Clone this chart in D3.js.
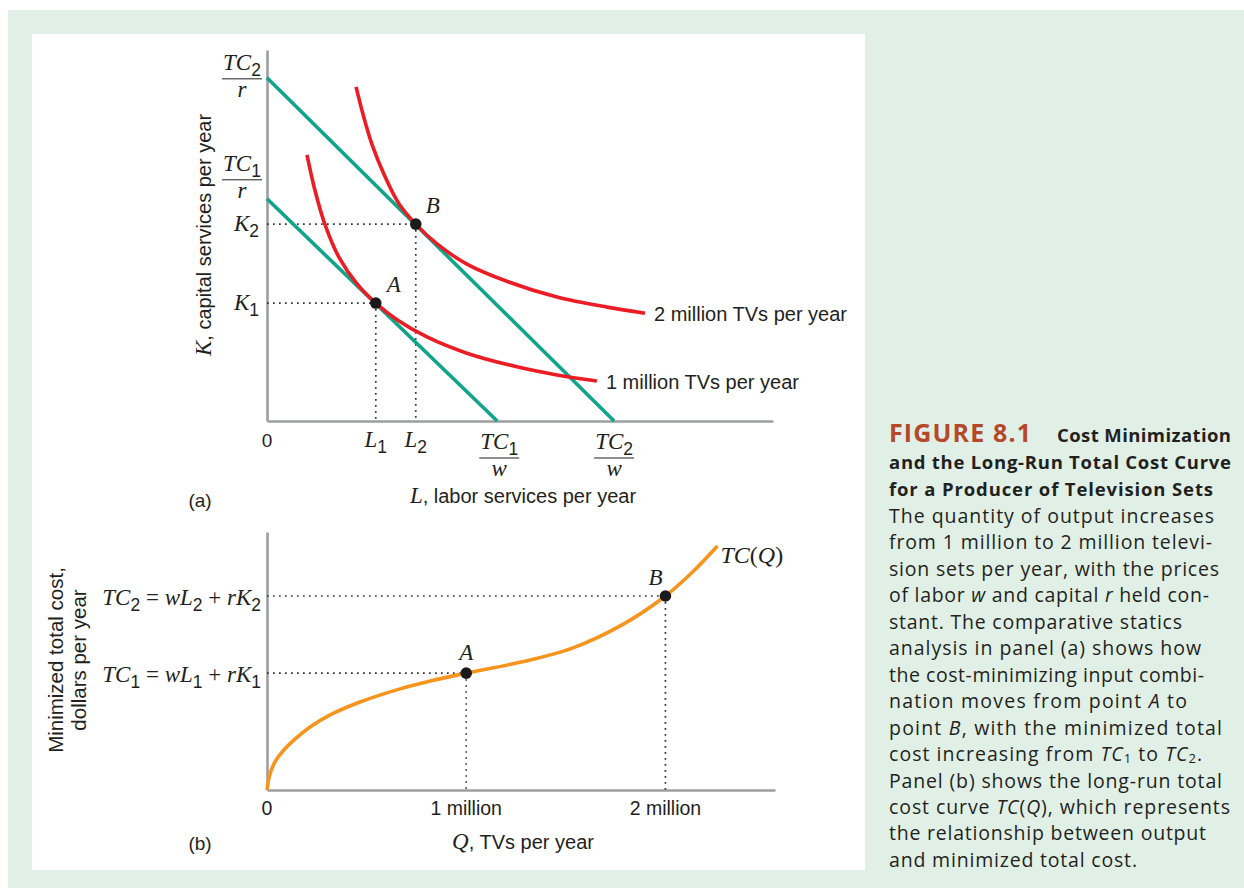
<!DOCTYPE html>
<html>
<head>
<meta charset="utf-8">
<script src="https://cdn.jsdelivr.net/npm/d3@7"></script>
<style>
  html, body { margin: 0; padding: 0; background: #ffffff; }
  svg { display: block; }
</style>
</head>
<body>
<div id="chart"></div>
<script>
// ---------------- DATA ----------------
// Panel (a): labour L (x) and capital K (y), arbitrary units
const isocost1 = [[0, 4.39], [4.55, 0]];          // TC1/r , TC1/w
const isocost2 = [[0, 6.78], [6.86, 0]];          // TC2/r , TC2/w
const isoquant1 = [ // 1 million TVs per year
  [0.79, 5.26], [0.95, 4.55], [1.15, 3.87], [1.42, 3.24], [1.78, 2.71],
  [2.15, 2.33], [2.57, 2.00], [3.16, 1.66], [3.95, 1.34], [4.94, 1.07],
  [5.73, 0.91], [6.52, 0.79]
];
const isoquant2 = [ // 2 million TVs per year
  [1.76, 6.60], [1.90, 6.05], [2.08, 5.45], [2.31, 4.88], [2.61, 4.29],
  [2.94, 3.89], [3.36, 3.50], [3.95, 3.10], [4.74, 2.76], [5.73, 2.45],
  [6.72, 2.25], [7.47, 2.13]
];
const optima = [ {name: "A", L: 2.15, K: 2.33}, {name: "B", L: 2.94, K: 3.89} ];
const isoquantLabels = ["1 million TVs per year", "2 million TVs per year"];

// Panel (b): output Q (millions of TVs) and minimized total cost
const tcCurve = [
  [0, 0], [0.015, 0.62], [0.04, 1.09], [0.08, 1.51], [0.136, 1.94],
  [0.216, 2.44], [0.317, 2.91], [0.467, 3.41], [0.668, 3.92], [0.819, 4.22],
  [1.0, 4.53], [1.276, 4.96], [1.533, 5.50], [1.789, 6.43], [2.0, 7.52],
  [2.136, 8.45], [2.261, 9.46]
];
const tcPoints = [ {name: "A", Q: 1, TC: 4.53}, {name: "B", Q: 2, TC: 7.52} ];
const qTicks = [0, 1, 2];
const qTickLabels = ["0", "1 million", "2 million"];

const captionLines = [
  "The quantity of output increases",
  "from 1 million to 2 million televi-",
  "sion sets per year, with the prices",
  "of labor |w| and capital |r| held con-",
  "stant. The comparative statics",
  "analysis in panel (a) shows how",
  "the cost-minimizing input combi-",
  "nation moves from point |A| to",
  "point |B|, with the minimized total",
  "cost increasing from |TC|_1 to |TC|_2.",
  "Panel (b) shows the long-run total",
  "cost curve |TC|(|Q|), which represents",
  "the relationship between output",
  "and minimized total cost."
];
const captionWidths = [325, 323, 330, 320, 293, 312, 315, 298, 333, 313, 333, 341, 317, 248];

// ---------------- DRAWING ----------------
const SANS = "'Liberation Sans', Arial, Helvetica, sans-serif";
const SERIF = "'Liberation Serif', 'Times New Roman', serif";
const CAP = "'Open Sans', 'Noto Sans', sans-serif";
const GREEN = "#10a48a", RED = "#ec1c24", ORANGE = "#f7941d", AXIS = "#9c9ea1", INK = "#231f20";

const W = 1244, H = 888;
const svg = d3.select("#chart").append("svg").attr("width", W).attr("height", H);

svg.append("rect").attr("x", 0).attr("y", 0).attr("width", W).attr("height", H).attr("fill", "#ffffff");
svg.append("rect").attr("x", 8).attr("y", 10).attr("width", W - 8).attr("height", H - 10).attr("fill", "#e1f0e6");
svg.append("rect").attr("x", 32).attr("y", 34).attr("width", 833).attr("height", 836).attr("fill", "#ffffff");

// rich text helper: segs = [[text, kind]], kind: i (serif italic), r (serif), s (sans), sub (sans subscript)
function rich(textSel, segs, base) {
  let shift = 0;
  segs.forEach(([str, kind]) => {
    const ts = textSel.append("tspan").text(str);
    let target = 0;
    if (kind === "i") ts.attr("font-family", SERIF).attr("font-style", "italic").attr("font-size", base);
    else if (kind === "r") ts.attr("font-family", SERIF).attr("font-size", base);
    else if (kind === "s") ts.attr("font-family", SANS).attr("font-size", 20);
    else if (kind === "sub") { ts.attr("font-family", SANS).attr("font-size", base * 0.76); target = base * 0.27; }
    if (target !== shift) { ts.attr("dy", target - shift); shift = target; }
  });
  return textSel;
}
function fraction(g, cx, lineY, numSegs, den, size) {
  rich(g.append("text").attr("x", cx).attr("y", lineY - 9).attr("text-anchor", "middle").attr("fill", INK), numSegs, size);
  g.append("line").attr("x1", cx - 20).attr("x2", cx + 20).attr("y1", lineY).attr("y2", lineY)
    .attr("stroke", INK).attr("stroke-width", 1);
  rich(g.append("text").attr("x", cx).attr("y", lineY + 18).attr("text-anchor", "middle").attr("fill", INK), [[den, "i"]], size);
}
const dotted = sel => sel.attr("stroke", "#333").attr("stroke-width", 1.7).attr("stroke-dasharray", "1.7,4.3");

// ===== Panel (a) =====
const xA = d3.scaleLinear().domain([0, 10]).range([267, 773]);
const yA = d3.scaleLinear().domain([0, 7.33]).range([421, 50]);
const gA = svg.append("g");

const axA_x = gA.append("g").attr("transform", `translate(0,${yA(0)})`)
  .call(d3.axisBottom(xA).tickValues([]).tickSizeOuter(0));
const axA_y = gA.append("g").attr("transform", `translate(${xA(0)},0)`)
  .call(d3.axisLeft(yA).tickValues([]).tickSizeOuter(0));
[axA_x, axA_y].forEach(a => a.select(".domain").attr("stroke", AXIS).attr("stroke-width", 2.6));

optima.forEach(p => {
  gA.append("line").attr("x1", xA(0)).attr("x2", xA(p.L)).attr("y1", yA(p.K)).attr("y2", yA(p.K)).call(dotted);
  gA.append("line").attr("x1", xA(p.L)).attr("x2", xA(p.L)).attr("y1", yA(p.K)).attr("y2", yA(0)).call(dotted);
});

const lineA = d3.line().x(d => xA(d[0])).y(d => yA(d[1]));
const curveA = d3.line().x(d => xA(d[0])).y(d => yA(d[1])).curve(d3.curveCatmullRom.alpha(0.5));
[isocost1, isocost2].forEach(c => gA.append("path").attr("d", lineA(c)).attr("fill", "none")
  .attr("stroke", GREEN).attr("stroke-width", 3.6));
[isoquant1, isoquant2].forEach(c => gA.append("path").attr("d", curveA(c)).attr("fill", "none")
  .attr("stroke", RED).attr("stroke-width", 3.6));

optima.forEach(p => gA.append("circle").attr("cx", xA(p.L)).attr("cy", yA(p.K)).attr("r", 5.8).attr("fill", "#1a1a1a"));

gA.append("text").attr("x", xA(optima[0].L) + 18).attr("y", yA(optima[0].K) - 11).attr("text-anchor", "middle")
  .attr("font-family", SERIF).attr("font-style", "italic").attr("font-size", 23).attr("fill", INK).text("A");
gA.append("text").attr("x", xA(optima[1].L) + 17).attr("y", yA(optima[1].K) - 11).attr("text-anchor", "middle")
  .attr("font-family", SERIF).attr("font-style", "italic").attr("font-size", 23).attr("fill", INK).text("B");

[isoquant1, isoquant2].forEach((c, i) => {
  const last = c[c.length - 1];
  gA.append("text").attr("x", xA(last[0]) + 9).attr("y", yA(last[1]) + 8)
    .attr("font-family", SANS).attr("font-size", 20).attr("fill", INK).text(isoquantLabels[i]);
});

// y-axis labels
fraction(gA, 242, yA(isocost2[0][1]) + 1, [["TC", "i"], ["2", "sub"]], "r", 23);
fraction(gA, 242, yA(isocost1[0][1]) - 19, [["TC", "i"], ["1", "sub"]], "r", 23);
rich(gA.append("text").attr("x", 259).attr("y", yA(optima[1].K) + 7).attr("text-anchor", "end").attr("fill", INK),
  [["K", "i"], ["2", "sub"]], 23);
rich(gA.append("text").attr("x", 259).attr("y", yA(optima[0].K) + 7).attr("text-anchor", "end").attr("fill", INK),
  [["K", "i"], ["1", "sub"]], 23);

// x-axis labels
gA.append("text").attr("x", xA(0)).attr("y", 447).attr("text-anchor", "middle")
  .attr("font-family", SANS).attr("font-size", 19).attr("fill", INK).text("0");
rich(gA.append("text").attr("x", xA(optima[0].L)).attr("y", 447).attr("text-anchor", "middle").attr("fill", INK),
  [["L", "i"], ["1", "sub"]], 23);
rich(gA.append("text").attr("x", xA(optima[1].L)).attr("y", 447).attr("text-anchor", "middle").attr("fill", INK),
  [["L", "i"], ["2", "sub"]], 23);
fraction(gA, xA(isocost1[1][0]) + 2, 458, [["TC", "i"], ["1", "sub"]], "w", 23);
fraction(gA, xA(isocost2[1][0]), 458, [["TC", "i"], ["2", "sub"]], "w", 23);

rich(gA.append("text").attr("x", 523).attr("y", 503).attr("text-anchor", "middle").attr("fill", INK),
  [["L", "i"], [", labor services per year", "s"]], 23);
rich(gA.append("text").attr("transform", "translate(211,235) rotate(-90)").attr("text-anchor", "middle").attr("fill", INK),
  [["K", "i"], [", capital services per year", "s"]], 23);
gA.append("text").attr("x", 200).attr("y", 507).attr("text-anchor", "middle")
  .attr("font-family", SANS).attr("font-size", 19).attr("fill", INK).text("(a)");

// ===== Panel (b) =====
const xB = d3.scaleLinear().domain([0, 2.55]).range([267, 775]);
const yB = d3.scaleLinear().domain([0, 10]).range([790, 532]);
const gB = svg.append("g");

const axB_x = gB.append("g").attr("transform", `translate(0,${yB(0)})`)
  .call(d3.axisBottom(xB).tickValues([]).tickSizeOuter(0));
const axB_y = gB.append("g").attr("transform", `translate(${xB(0)},0)`)
  .call(d3.axisLeft(yB).tickValues([]).tickSizeOuter(0));
[axB_x, axB_y].forEach(a => a.select(".domain").attr("stroke", AXIS).attr("stroke-width", 2.6));

tcPoints.forEach(p => {
  gB.append("line").attr("x1", xB(0)).attr("x2", xB(p.Q)).attr("y1", yB(p.TC)).attr("y2", yB(p.TC)).call(dotted);
  gB.append("line").attr("x1", xB(p.Q)).attr("x2", xB(p.Q)).attr("y1", yB(p.TC)).attr("y2", yB(0)).call(dotted);
});

const curveB = d3.line().x(d => xB(d[0])).y(d => yB(d[1])).curve(d3.curveCatmullRom.alpha(0.5));
gB.append("path").attr("d", curveB(tcCurve)).attr("fill", "none").attr("stroke", ORANGE).attr("stroke-width", 3.6);
tcPoints.forEach(p => gB.append("circle").attr("cx", xB(p.Q)).attr("cy", yB(p.TC)).attr("r", 5.8).attr("fill", "#1a1a1a"));

gB.append("text").attr("x", xB(1)).attr("y", yB(tcPoints[0].TC) - 13).attr("text-anchor", "middle")
  .attr("font-family", SERIF).attr("font-style", "italic").attr("font-size", 23).attr("fill", INK).text("A");
gB.append("text").attr("x", xB(2) - 10).attr("y", yB(tcPoints[1].TC) - 11).attr("text-anchor", "middle")
  .attr("font-family", SERIF).attr("font-style", "italic").attr("font-size", 23).attr("fill", INK).text("B");
const lastTC = tcCurve[tcCurve.length - 1];
rich(gB.append("text").attr("x", xB(lastTC[0]) + 3).attr("y", yB(lastTC[1]) + 17).attr("fill", INK),
  [["TC", "i"], ["(", "r"], ["Q", "i"], [")", "r"]], 24);

rich(gB.append("text").attr("x", 261).attr("y", yB(tcPoints[1].TC) + 9).attr("text-anchor", "end").attr("fill", INK),
  [["TC", "i"], ["2", "sub"], [" = ", "r"], ["wL", "i"], ["2", "sub"], [" + ", "r"], ["rK", "i"], ["2", "sub"]], 23);
rich(gB.append("text").attr("x", 261).attr("y", yB(tcPoints[0].TC) + 9).attr("text-anchor", "end").attr("fill", INK),
  [["TC", "i"], ["1", "sub"], [" = ", "r"], ["wL", "i"], ["1", "sub"], [" + ", "r"], ["rK", "i"], ["1", "sub"]], 23);

qTicks.forEach((q, i) => gB.append("text").attr("x", xB(q)).attr("y", 815).attr("text-anchor", "middle")
  .attr("font-family", SANS).attr("font-size", 19.5).attr("fill", INK).text(qTickLabels[i]));

rich(gB.append("text").attr("x", 523).attr("y", 849).attr("text-anchor", "middle").attr("fill", INK),
  [["Q", "i"], [", TVs per year", "s"]], 23);
gB.append("text").attr("x", 200).attr("y", 850).attr("text-anchor", "middle")
  .attr("font-family", SANS).attr("font-size", 19).attr("fill", INK).text("(b)");
const yt = gB.append("text").attr("transform", "translate(63,660) rotate(-90)").attr("text-anchor", "middle")
  .attr("font-family", SANS).attr("font-size", 20.5).attr("fill", INK);
yt.append("tspan").attr("x", 0).attr("dy", 0).text("Minimized total cost,");
yt.append("tspan").attr("x", 0).attr("dy", 23).text("dollars per year");

// ===== Caption =====
const gC = svg.append("g");
gC.append("text").attr("x", 889).attr("y", 442).attr("font-family", CAP).attr("font-weight", 700)
  .attr("font-size", 25).attr("fill", "#b5482a").attr("textLength", 142).text("FIGURE 8.1");
gC.append("text").attr("x", 1057).attr("y", 442).attr("font-family", CAP).attr("font-weight", 700)
  .attr("font-size", 18.5).attr("fill", INK).attr("textLength", 174).text("Cost Minimization");
gC.append("text").attr("x", 889).attr("y", 469).attr("font-family", CAP).attr("font-weight", 700).attr("font-size", 18.5)
  .attr("fill", INK).attr("textLength", 342).text("and the Long-Run Total Cost Curve");
gC.append("text").attr("x", 889).attr("y", 496).attr("font-family", CAP).attr("font-weight", 700).attr("font-size", 18.5)
  .attr("fill", INK).attr("textLength", 324).text("for a Producer of Television Sets");

captionLines.forEach((ln, i) => {
  const t = gC.append("text").attr("x", 889).attr("y", 523 + i * 26.45).attr("font-family", CAP)
    .attr("font-size", 19.5).attr("fill", INK).attr("textLength", captionWidths[i]);
  const parts = ln.split("|");
  let shift = 0;
  parts.forEach((p, j) => {
    if (!p) return;
    const italic = j % 2 === 1;
    const subParts = p.split(/_(\d)/);
    subParts.forEach((sp, k) => {
      if (!sp) return;
      const isSub = k % 2 === 1;
      const ts = t.append("tspan").text(sp);
      if (italic) ts.attr("font-style", "italic");
      const target = isSub ? 2 : 0;
      if (isSub) ts.attr("font-size", 13);
      if (target !== shift) { ts.attr("dy", target - shift); shift = target; }
    });
  });
});
</script>
</body>
</html>
